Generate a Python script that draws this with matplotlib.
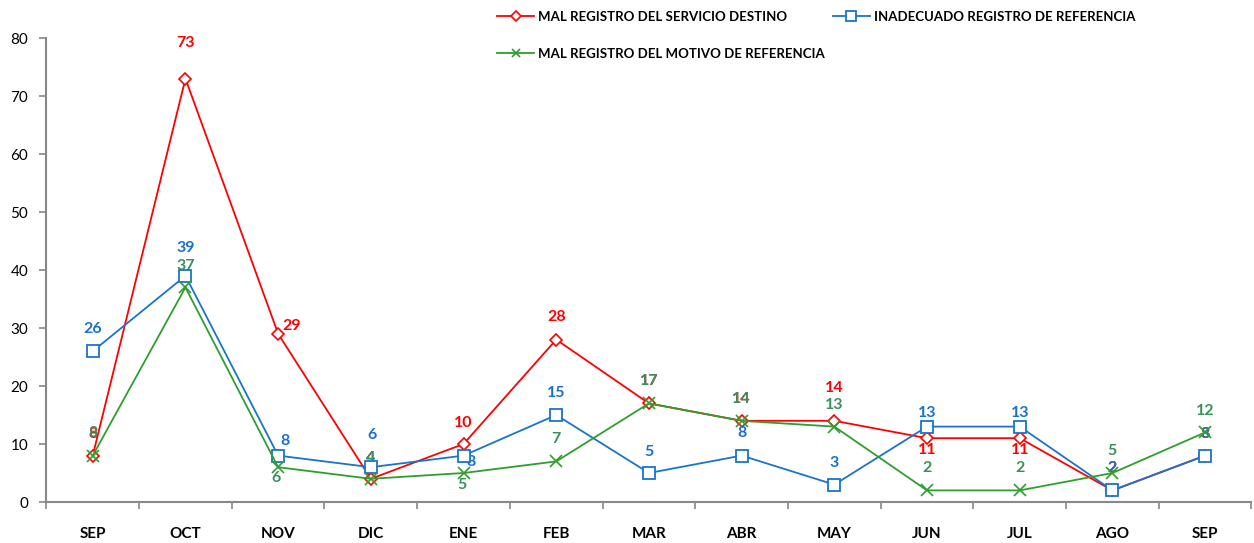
import matplotlib.pyplot as plt

plt.rcParams['font.family'] = ['Lato', 'DejaVu Sans']

months = ['SEP', 'OCT', 'NOV', 'DIC', 'ENE', 'FEB', 'MAR', 'ABR', 'MAY', 'JUN', 'JUL', 'AGO', 'SEP']
servicio = [8, 73, 29, 4, 10, 28, 17, 14, 14, 11, 11, 2, 8]
inadecuado = [26, 39, 8, 6, 8, 15, 5, 8, 3, 13, 13, 2, 8]
motivo = [8, 37, 6, 4, 5, 7, 17, 14, 13, 2, 2, 5, 12]

# label offsets in pixels (dx, dy)
off_red = [(0, 22), (0, 36), (14, 8), (0, 21), (0, 21), (0, 23), (0, 22), (0, 22),
           (0, 33), (0, -12), (0, -12), (0, 22), (0, 22)]
off_blue = [(0, 22), (0, 28), (7, 15), (1, 32), (7, -6), (0, 22), (0, 21), (0, 23),
            (0, 22), (0, 14), (0, 14), (0, 22), (0, 22)]
off_green = [(0, 23), (0, 21), (-2, -11), (0, 21), (-2, -12), (0, 22), (0, 22), (0, 22),
             (0, 22), (0, 22), (0, 22), (0, 22), (0, 21)]

red = '#FF0000'
blue = '#1874CD'
green = '#2E9E2E'

fig = plt.figure(figsize=(12.54, 5.43), dpi=100)
ax = fig.add_axes([0.037, 0.0755, 0.961, 0.8545])

x = list(range(len(months)))
l1, = ax.plot(x, servicio, color=red, lw=1.3, marker='D', ms=6, mfc='white', mec=red, mew=1.2,
              label='MAL REGISTRO DEL SERVICIO DESTINO', zorder=3)
l2, = ax.plot(x, inadecuado, color=blue, lw=1.3, marker='s', ms=9, mfc='white', mec=blue, mew=1.3,
              label='INADECUADO REGISTRO DE REFERENCIA', zorder=4)
l3, = ax.plot(x, motivo, color=green, lw=1.3, marker='x', ms=8, mec=green, mew=1.2,
              label='MAL REGISTRO DEL MOTIVO DE REFERENCIA', zorder=5)

for vals, offs, c in [(servicio, off_red, '#FF0000'), (motivo, off_green, '#3A9160'),
                      (inadecuado, off_blue, '#1A6FD0')]:
    for i, v in enumerate(vals):
        ax.annotate(str(v), (i, v), xytext=offs[i], textcoords='offset pixels',
                    ha='center', va='center', fontsize=11.5, fontweight='bold', color=c)

ax.set_xlim(-0.5, len(months) - 0.5)
ax.set_ylim(0, 80)
ax.set_yticks(range(0, 81, 10))
ax.set_xticks(x)
ax.set_xticklabels(months, fontsize=11, fontweight='bold')
ax.set_xticks([i - 0.5 for i in range(len(months) + 1)], minor=True)
ax.tick_params(axis='x', which='major', length=0, pad=18)
ax.tick_params(axis='x', which='minor', length=5, color='#888888', width=1.2)
ax.tick_params(axis='y', length=5, color='#888888', width=1.2, labelsize=11, pad=8)
for s in ['top', 'right']:
    ax.spines[s].set_visible(False)
for s in ['left', 'bottom']:
    ax.spines[s].set_color('#888888')
    ax.spines[s].set_linewidth(1.5)

# column-major fill: [l1, l3] in first column, l2 in second
fig.legend(handles=[l1, l3, l2], loc='upper left', bbox_to_anchor=(0.388, 1.0), ncol=2,
           frameon=False, prop={'size': 9.5, 'weight': 'bold'}, handlelength=2.8,
           columnspacing=0.6, labelspacing=1.9, handletextpad=0.3, markerscale=0.8,
           borderaxespad=0.4)

fig.savefig('out.png', dpi=100)
